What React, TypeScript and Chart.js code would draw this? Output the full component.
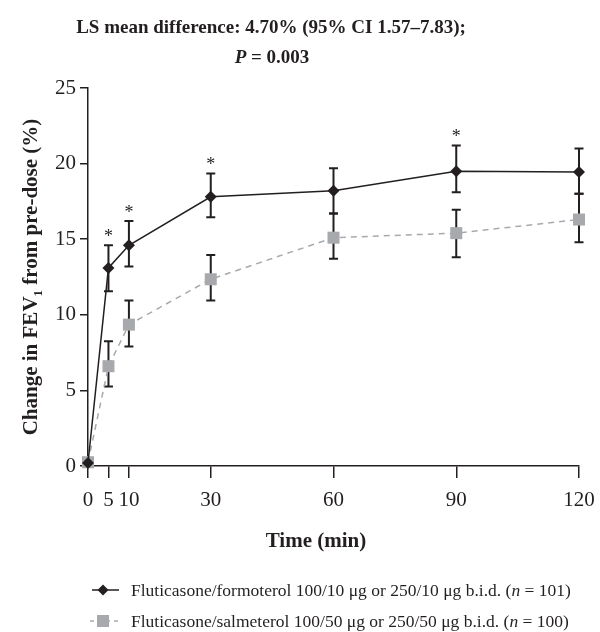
import { useEffect, useRef } from 'react';
import { Chart, registerables } from 'chart.js';

Chart.register(...registerables);

// ---- data ----
const timePoints = [0, 5, 10, 30, 60, 90, 120];
const xTickValues = [0, 5, 10, 30, 60, 90, 120];
const yMin = 0;
const yMax = 25;
const yStep = 5;

const formoterolMean = [0.2, 13.1, 14.6, 17.8, 18.2, 19.5, 19.45];
const formoterolUpper = [0.2, 14.6, 16.2, 19.35, 19.7, 21.2, 21.0];
const formoterolLower = [0.2, 11.55, 13.2, 16.45, 16.7, 18.1, 18.0];

const salmeterolMean = [0.25, 6.6, 9.35, 12.35, 15.1, 15.4, 16.3];
const salmeterolUpper = [0.25, 8.25, 10.95, 13.95, 16.7, 16.95, 18.0];
const salmeterolLower = [0.25, 5.25, 7.9, 10.95, 13.7, 13.8, 14.8];

const significant = [false, true, true, true, false, true, false];

const titleLine1 = 'LS mean difference: 4.70% (95% CI 1.57–7.83);';
const titleLine2P = 'P';
const titleLine2Rest = ' = 0.003';
const xTitle = 'Time (min)';
const yTitleA = 'Change in FEV';
const yTitleSub = '1';
const yTitleB = ' from pre-dose (%)';

const legendFormoterolA = 'Fluticasone/formoterol 100/10 μg or 250/10 μg b.i.d. (';
const legendFormoterolN = 'n';
const legendFormoterolB = ' = 101)';
const legendSalmeterolA = 'Fluticasone/salmeterol 100/50 μg or 250/50 μg b.i.d. (';
const legendSalmeterolN = 'n';
const legendSalmeterolB = ' = 100)';

const FONT = '"Liberation Serif", "DejaVu Serif", serif';
const INK = '#231f20';
const GREY = '#a7a9ac';

const errorSets = [
  { upper: formoterolUpper, lower: formoterolLower },
  { upper: salmeterolUpper, lower: salmeterolLower },
];

const errorBarPlugin = {
  id: 'errorBars',
  beforeDatasetsDraw(chart: any) {
    const ctx = chart.ctx;
    const xs = chart.scales.x;
    const ys = chart.scales.y;
    ctx.save();
    ctx.strokeStyle = INK;
    ctx.lineWidth = 2;
    errorSets.forEach((set) => {
      timePoints.forEach((t, i) => {
        const u = set.upper[i];
        const l = set.lower[i];
        if (u === l) return;
        const x = xs.getPixelForValue(t);
        const yu = ys.getPixelForValue(u);
        const yl = ys.getPixelForValue(l);
        ctx.beginPath();
        ctx.moveTo(x, yu);
        ctx.lineTo(x, yl);
        ctx.moveTo(x - 4.5, yu);
        ctx.lineTo(x + 4.5, yu);
        ctx.moveTo(x - 4.5, yl);
        ctx.lineTo(x + 4.5, yl);
        ctx.stroke();
      });
    });
    ctx.restore();
  },
  afterDatasetsDraw(chart: any) {
    const ctx = chart.ctx;
    const xs = chart.scales.x;
    const ys = chart.scales.y;
    ctx.save();
    ctx.fillStyle = INK;
    ctx.font = `18px ${FONT}`;
    ctx.textAlign = 'center';
    ctx.textBaseline = 'alphabetic';
    timePoints.forEach((t, i) => {
      if (!significant[i]) return;
      const x = xs.getPixelForValue(t);
      const yu = ys.getPixelForValue(formoterolUpper[i]);
      ctx.fillText('*', x, yu - 3);
    });
    ctx.restore();
  },
};

function drawRuns(ctx: CanvasRenderingContext2D, runs: { text: string; font: string; dy?: number }[], x: number, y: number, align: 'left' | 'center') {
  let total = 0;
  runs.forEach((r) => {
    ctx.font = r.font;
    total += ctx.measureText(r.text).width;
  });
  let cx = align === 'center' ? x - total / 2 : x;
  ctx.textAlign = 'left';
  runs.forEach((r) => {
    ctx.font = r.font;
    ctx.fillText(r.text, cx, y + (r.dy || 0));
    cx += ctx.measureText(r.text).width;
  });
}

const textPlugin = {
  id: 'texts',
  afterDraw(chart: any) {
    const ctx = chart.ctx as CanvasRenderingContext2D;
    const area = chart.chartArea;
    ctx.save();
    ctx.fillStyle = INK;
    ctx.textBaseline = 'alphabetic';
    // title
    drawRuns(ctx, [{ text: titleLine1, font: `bold 19px ${FONT}` }], 271, 33, 'center');
    drawRuns(
      ctx,
      [
        { text: titleLine2P, font: `italic bold 19px ${FONT}` },
        { text: titleLine2Rest, font: `bold 19px ${FONT}` },
      ],
      272,
      63,
      'center'
    );
    // x title
    drawRuns(ctx, [{ text: xTitle, font: `bold 21px ${FONT}` }], 316, 547, 'center');
    // y title
    ctx.save();
    ctx.translate(37, (area.top + area.bottom) / 2);
    ctx.rotate(-Math.PI / 2);
    drawRuns(
      ctx,
      [
        { text: yTitleA, font: `bold 21px ${FONT}` },
        { text: yTitleSub, font: `bold 13px ${FONT}`, dy: 5 },
        { text: yTitleB, font: `bold 21px ${FONT}` },
      ],
      0,
      0,
      'center'
    );
    ctx.restore();
    // legend
    const legendFont = `17.5px ${FONT}`;
    const legendItal = `italic 17.5px ${FONT}`;
    const rows = [
      { y: 590, a: legendFormoterolA, n: legendFormoterolN, b: legendFormoterolB, kind: 'f' },
      { y: 621, a: legendSalmeterolA, n: legendSalmeterolN, b: legendSalmeterolB, kind: 's' },
    ];
    rows.forEach((r) => {
      ctx.save();
      if (r.kind === 'f') {
        ctx.strokeStyle = INK;
        ctx.lineWidth = 1.5;
        ctx.beginPath();
        ctx.moveTo(92, r.y);
        ctx.lineTo(119, r.y);
        ctx.stroke();
        ctx.fillStyle = INK;
        ctx.beginPath();
        ctx.moveTo(103, r.y - 5.5);
        ctx.lineTo(108.5, r.y);
        ctx.lineTo(103, r.y + 5.5);
        ctx.lineTo(97.5, r.y);
        ctx.closePath();
        ctx.fill();
      } else {
        ctx.strokeStyle = GREY;
        ctx.lineWidth = 1.5;
        ctx.setLineDash([4, 4]);
        ctx.beginPath();
        ctx.moveTo(90, r.y);
        ctx.lineTo(120, r.y);
        ctx.stroke();
        ctx.fillStyle = GREY;
        ctx.fillRect(97, r.y - 6, 12, 12);
      }
      ctx.restore();
      ctx.fillStyle = INK;
      drawRuns(
        ctx,
        [
          { text: r.a, font: legendFont },
          { text: r.n, font: legendItal },
          { text: r.b, font: legendFont },
        ],
        131,
        r.y + 6,
        'left'
      );
    });
    ctx.restore();
  },
};

export default function App() {
  const ref = useRef<HTMLCanvasElement | null>(null);
  useEffect(() => {
    if (!ref.current) return;
    const chart = new Chart(ref.current, {
      type: 'line',
      data: {
        datasets: [
          {
            label: 'Fluticasone/formoterol',
            data: timePoints.map((t, i) => ({ x: t, y: formoterolMean[i] })),
            borderColor: INK,
            backgroundColor: INK,
            borderWidth: 1.5,
            pointStyle: 'rectRot',
            pointRadius: 6,
            pointBorderWidth: 0,
            pointBackgroundColor: INK,
            tension: 0,
            clip: false,
          },
          {
            label: 'Fluticasone/salmeterol',
            data: timePoints.map((t, i) => ({ x: t, y: salmeterolMean[i] })),
            borderColor: GREY,
            backgroundColor: GREY,
            borderWidth: 1.5,
            borderDash: [6, 5],
            pointStyle: 'rect',
            pointRadius: 8.5,
            pointBorderWidth: 0,
            pointBackgroundColor: GREY,
            tension: 0,
            clip: false,
          },
        ],
      },
      options: {
        animation: false,
        responsive: false,
        layout: { padding: { top: 88, right: 21, left: 0, bottom: 0 } },
        plugins: { legend: { display: false }, tooltip: { enabled: false }, title: { display: false } },
        scales: {
          x: {
            type: 'linear',
            min: 0,
            max: 120,
            afterBuildTicks: (s: any) => {
              s.ticks = xTickValues.map((v) => ({ value: v }));
            },
            afterFit: (s: any) => {
              s.height = 166;
              s.paddingLeft = 0;
              s.paddingRight = 0;
            },
            grid: { drawOnChartArea: false, drawTicks: true, tickLength: 12, color: INK, lineWidth: 1.5 },
            border: { display: true, color: INK, width: 1.5 },
            ticks: { font: { family: FONT, size: 21 }, color: INK, padding: 10, maxRotation: 0, autoSkip: false },
          },
          y: {
            type: 'linear',
            min: yMin,
            max: yMax,
            afterFit: (s: any) => {
              s.width = 88;
            },
            grid: { drawOnChartArea: false, drawTicks: true, tickLength: 8, color: INK, lineWidth: 1.5 },
            border: { display: true, color: INK, width: 1.5 },
            ticks: { stepSize: yStep, font: { family: FONT, size: 21 }, color: INK, padding: 4 },
          },
        },
      },
      plugins: [errorBarPlugin, textPlugin],
    });
    return () => chart.destroy();
  }, []);
  return (
    <div style={{ position: 'absolute', left: 0, top: 0, width: 600, height: 632, background: '#fff' }}>
      <canvas ref={ref} width={600} height={632} />
    </div>
  );
}
